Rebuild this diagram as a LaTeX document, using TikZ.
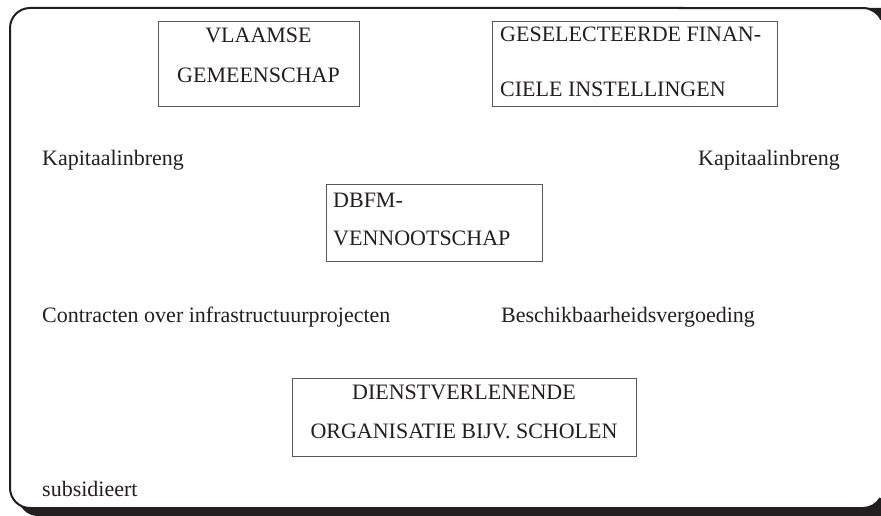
\documentclass[tikz,border=0pt]{standalone}
\usepackage{fontspec}
\setmainfont{Liberation Serif}
\definecolor{ink}{HTML}{231F20}
\definecolor{boxline}{HTML}{58595B}
\begin{document}
\begin{tikzpicture}[x=1pt,y=-1pt,
  txt/.style={inner sep=0pt,text=ink,font=\fontsize{22}{26}\selectfont},
  lefttxt/.style={txt,anchor=base west},
  midtxt/.style={txt,anchor=base},
  boxnode/.style={draw=boxline,line width=1pt,inner sep=0pt,rectangle}]
\useasboundingbox (0,0) rectangle (881,516);
\begin{scope}
\clip (0,0) rectangle (881,516);
% shadow
\fill[ink,rounded corners=20pt] (18,8) rectangle (930,516);
% white interior of the frame (open to the right, off the picture)
\fill[white] (881.13,19.55) arc[start angle=-25,end angle=-90,radius=20] -- (30,8)
  arc[start angle=-90,end angle=-180,radius=20] -- (10,488)
  arc[start angle=180,end angle=90,radius=20] -- (863,508)
  arc[start angle=90,end angle=30,radius=20] -- (930,498) -- (930,19.55) -- cycle;
% frame line
\draw[ink,line width=2pt] (881.13,19.55) arc[start angle=-25,end angle=-90,radius=20] -- (30,8)
  arc[start angle=-90,end angle=-180,radius=20] -- (10,488)
  arc[start angle=180,end angle=90,radius=20] -- (863,508)
  arc[start angle=90,end angle=30,radius=20];
\end{scope}
% boxes
\node[boxnode,minimum width=201pt,minimum height=85pt] (vg) at (258.5,64.5) {};
\node[boxnode,minimum width=285pt,minimum height=85pt] (gfi) at (634.5,64.5) {};
\node[boxnode,minimum width=216pt,minimum height=77pt] (dbfm) at (434,222.5) {};
\node[boxnode,minimum width=344pt,minimum height=78pt] (do) at (464,417) {};
% box texts
\node[midtxt] (vg1) at (258.5,43) {VLAAMSE};
\node[midtxt] (vg2) at (258.5,83) {GEMEENSCHAP};
\node[lefttxt] (gfi1) at (500,42) {GESELECTEERDE FINAN-};
\node[lefttxt] (gfi2) at (500,97) {CIELE INSTELLINGEN};
\node[lefttxt] (db1) at (333,207) {DBFM-};
\node[lefttxt] (db2) at (333,245) {VENNOOTSCHAP};
\node[midtxt] (do1) at (464,399) {DIENSTVERLENENDE};
\node[midtxt] (do2) at (464,438) {ORGANISATIE BIJV. SCHOLEN};
% free labels
\node[lefttxt] (k1) at (42,165) {Kapitaalinbreng};
\node[lefttxt] (k2) at (698,165) {Kapitaalinbreng};
\node[lefttxt] (ct) at (42,322) {Contracten over infrastructuurprojecten};
\node[lefttxt] (bv) at (501,322) {Beschikbaarheidsvergoeding};
\node[lefttxt] (sub) at (42,496) {subsidieert};
\end{tikzpicture}
\end{document}
